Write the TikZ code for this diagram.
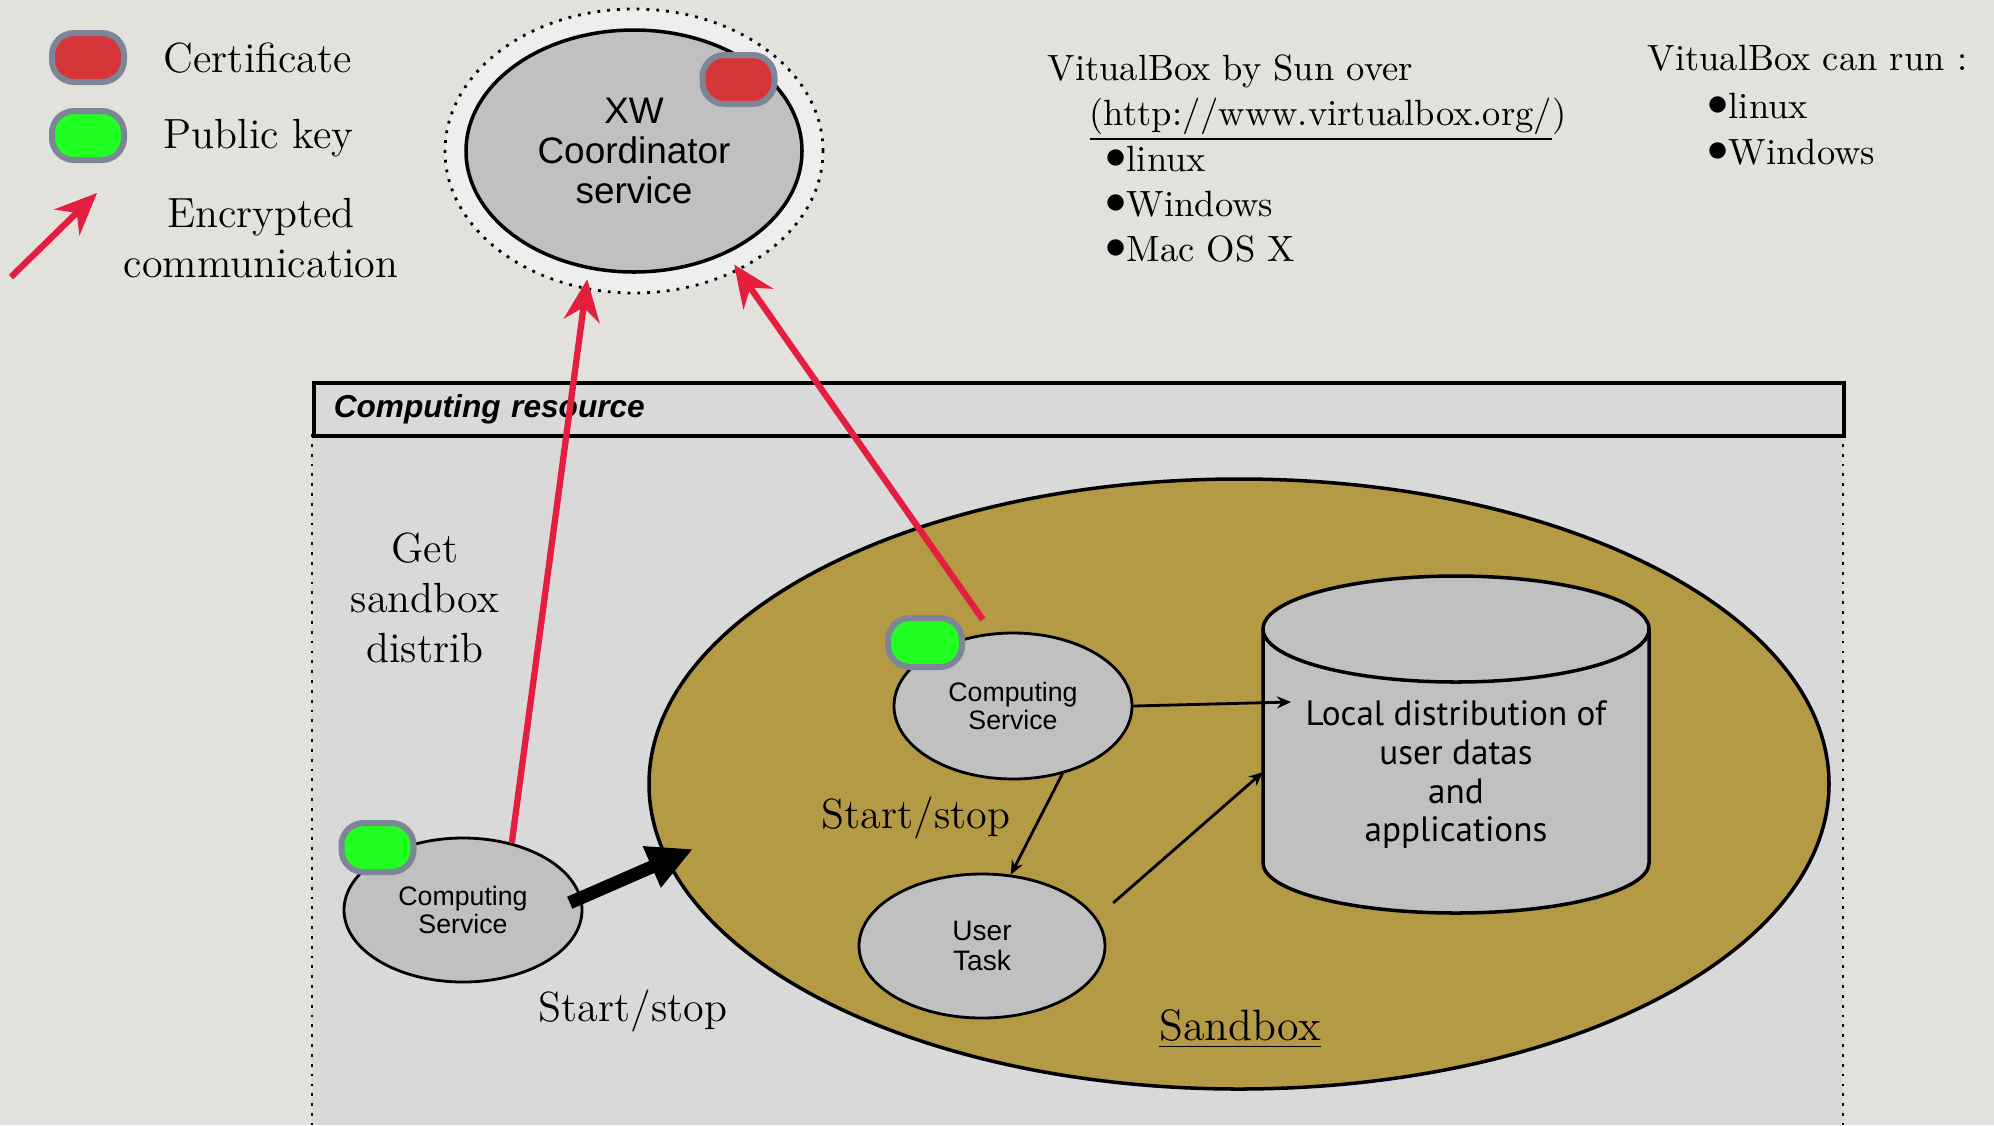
\documentclass[tikz,border=0pt]{standalone}
\usepackage{fontspec}
\usepackage{tikz}
\usetikzlibrary{arrows.meta,shapes.geometric}
\newfontfamily\helv{Liberation Sans}
\newfontfamily\gill{PT Sans}
\definecolor{paper}{RGB}{227,225,219}
\definecolor{boxgray}{RGB}{217,217,217}
\definecolor{nodegray}{RGB}{192,192,192}
\definecolor{halo}{RGB}{238,238,238}
\definecolor{sandgold}{RGB}{180,154,69}
\definecolor{certred}{RGB}{214,54,58}
\definecolor{keygreen}{RGB}{34,255,34}
\definecolor{pillrim}{RGB}{125,134,150}
\definecolor{cryptred}{RGB}{228,30,62}
\def\blt{\raisebox{0.15ex}{\large$\bullet$}}
\tikzset{
	pill/.style={rectangle, rounded corners=0.22cm, draw=pillrim, line width=0.06cm, minimum width=0.72cm, minimum height=0.49cm, inner sep=0},
	certpill/.style={pill, fill=certred},
	keypill/.style={pill, fill=keygreen},
	service/.style={ellipse, draw, line width=0.8pt, fill=nodegray, inner sep=0, align=center, font=\helv\fontsize{7.6}{8}\selectfont},
	crypt/.style={draw=cryptred, line width=1.8pt, -{Stealth[length=0.42cm,width=0.36cm]}},
	flow/.style={draw, line width=0.8pt, -{Stealth[length=0.14cm,width=0.12cm]}},
	bigtext/.style={inner sep=0, font=\fontsize{12}{14.3}\selectfont},
	osnote/.style={inner sep=0, font=\fontsize{10.4}{12.8}\selectfont, anchor=base west},
}

\begin{document}
\begin{tikzpicture}
	%%%%% START %%%%%
	\useasboundingbox[fill=paper] (0,0) rectangle (19.94,-11.25);
	
	% legend
	\node[certpill] (legcert) at (0.88,-0.575) {};
	\node[keypill] (legkey) at (0.88,-1.355) {};
	\node[bigtext, anchor=base west] (legcerttxt) at (1.63,-0.72) {Certificate};
	\node[bigtext, anchor=base west] (legkeytxt) at (1.63,-1.48) {Public key};
	\coordinate (legtail) at (0.11,-2.77);
	\coordinate (leghead) at (0.97,-1.93);
	\draw[crypt] (legtail) -- (leghead);
	\node[bigtext, align=center] (legcrypt) at (2.61,-2.38) {Encrypted\\communication};
	
	% coordinator
	\node[ellipse, draw, dotted, line width=0.8pt, fill=halo, minimum width=3.78cm, minimum height=2.84cm] (xwhalo) at (6.34,-1.51) {};
	\node[ellipse, draw, line width=1pt, fill=nodegray, minimum width=3.36cm, minimum height=2.42cm, align=center, font=\helv\fontsize{10.5}{11.4}\selectfont] (xw) at (6.34,-1.51) {XW\\Coordinator\\service};
	\node[certpill] (xwcert) at (7.385,-0.795) {};
	
	% virtualbox notes
	\node[osnote] (vbsun) at (10.47,-0.80) {VitualBox by Sun over};
	\node[osnote] (vburl) at (10.89,-1.25) {\underline{(http://www.virtualbox.org/})};
	\node[osnote] (vblinux) at (11.05,-1.71) {\blt linux};
	\node[osnote] (vbwin) at (11.05,-2.16) {\blt Windows};
	\node[osnote] (vbmac) at (11.05,-2.61) {\blt Mac OS X};
	\node[osnote] (vbrun) at (16.47,-0.70) {VitualBox can run :};
	\node[osnote] (runlinux) at (17.07,-1.18) {\blt linux};
	\node[osnote] (runwin) at (17.07,-1.64) {\blt Windows};
	
	% computing resource
	\fill[boxgray] (3.12,-4.34) rectangle (18.43,-11.25);
	\draw[dotted, line width=0.8pt] (3.12,-4.34) -- (3.12,-11.25);
	\draw[dotted, line width=0.8pt] (18.43,-4.34) -- (18.43,-11.25);
	\node[draw, line width=1pt, fill=boxgray, anchor=north west, minimum height=0.53cm, text width=14.9cm, align=left, inner xsep=0.2cm, inner ysep=0, font=\helv\bfseries\itshape\fontsize{9}{10}\selectfont] (crhead) at (3.12,-3.81) {Computing resource};
	\node[bigtext, align=center] (getsb) at (4.25,-5.98) {Get\\sandbox\\distrib};
	
	% sandbox
	\node[ellipse, draw, line width=1pt, fill=sandgold, minimum width=11.8cm, minimum height=6.1cm] (sandbox) at (12.39,-7.84) {};
	\node[inner sep=0, font=\fontsize{12.5}{14}\selectfont] (sandboxlbl) at (12.40,-10.29) {\underline{Sandbox}};
	
	% storage cylinder
	\draw[line width=1pt, fill=nodegray] (12.63,-6.29) -- (12.63,-8.63) arc (180:360:1.93 and 0.50) -- (16.49,-6.29) arc (0:180:1.93 and 0.53) -- cycle;
	\draw[line width=1pt] (12.63,-6.29) arc (180:360:1.93 and 0.53);
	\node[align=center, inner sep=0, font=\gill\fontsize{10}{11}\selectfont] (store) at (14.56,-7.75) {Local distribution of\\user datas\\and\\applications};
	
	% services
	\node[service, minimum width=2.38cm, minimum height=1.44cm] (outercs) at (4.63,-9.10) {Computing\\Service};
	\node[keypill] (outerkey) at (3.775,-8.475) {};
	\node[service, minimum width=2.38cm, minimum height=1.46cm] (innercs) at (10.13,-7.06) {Computing\\Service};
	\node[keypill, minimum width=0.74cm] (innerkey) at (9.25,-6.425) {};
	\node[service, minimum width=2.46cm, minimum height=1.44cm, font=\helv\fontsize{8}{8.6}\selectfont] (usertask) at (9.82,-9.46) {User\\Task};
	
	\node[bigtext] (ssinner) at (9.16,-8.18) {Start/stop};
	\node[bigtext] (ssouter) at (6.33,-10.11) {Start/stop};
	
	% connectors
	\coordinate (sbentry) at (6.93,-8.49);
	\coordinate (storein) at (12.91,-7.02);
	\coordinate (storeside) at (12.63,-7.72);
	\draw[line width=0.13cm, -{Triangle[length=0.45cm,width=0.42cm]}, shorten <=-0.13cm] (outercs.6) -- (sbentry);
	\draw[flow] (innercs.east) -- (storein);
	\draw[flow] (innercs.-54) -- (usertask.68);
	\draw[flow, shorten <=0.22cm] (usertask.14) -- (storeside);
	\draw[crypt, shorten >=0.1cm] (outercs.54) -- (xw.-111);
	\draw[crypt, shorten <=0.16cm, shorten >=0.13cm] (innercs.106) -- (xw.-48);
	
	%%%%% END %%%%%
\end{tikzpicture}
\end{document}
